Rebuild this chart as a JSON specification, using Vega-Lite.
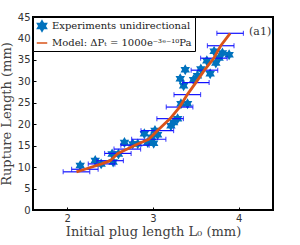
{
  "$schema": "https://vega.github.io/schema/vega-lite/v6.json",
  "width": 240,
  "height": 193,
  "autosize": {"type": "none"},
  "padding": {"left": 33, "top": 17, "right": 27, "bottom": 35},
  "background": "white",
  "datasets": {
    "exp": [
      {"L0": 2.151, "R": 10.36, "series": "Experiments unidirectional"},
      {"L0": 2.326, "R": 11.53, "series": "Experiments unidirectional"},
      {"L0": 2.395, "R": 10.75, "series": "Experiments unidirectional"},
      {"L0": 2.523, "R": 13.08, "series": "Experiments unidirectional"},
      {"L0": 2.535, "R": 11.21, "series": "Experiments unidirectional"},
      {"L0": 2.597, "R": 13.08, "series": "Experiments unidirectional"},
      {"L0": 2.667, "R": 15.73, "series": "Experiments unidirectional"},
      {"L0": 2.764, "R": 15.42, "series": "Experiments unidirectional"},
      {"L0": 2.822, "R": 15.42, "series": "Experiments unidirectional"},
      {"L0": 2.899, "R": 17.76, "series": "Experiments unidirectional"},
      {"L0": 2.938, "R": 15.73, "series": "Experiments unidirectional"},
      {"L0": 3.008, "R": 15.58, "series": "Experiments unidirectional"},
      {"L0": 3.023, "R": 18.54, "series": "Experiments unidirectional"},
      {"L0": 3.054, "R": 17.52, "series": "Experiments unidirectional"},
      {"L0": 2.984, "R": 16.98, "series": "Experiments unidirectional"},
      {"L0": 3.209, "R": 19.63, "series": "Experiments unidirectional"},
      {"L0": 3.240, "R": 20.40, "series": "Experiments unidirectional"},
      {"L0": 3.287, "R": 21.26, "series": "Experiments unidirectional"},
      {"L0": 3.318, "R": 30.61, "series": "Experiments unidirectional"},
      {"L0": 3.357, "R": 28.97, "series": "Experiments unidirectional"},
      {"L0": 3.376, "R": 32.71, "series": "Experiments unidirectional"},
      {"L0": 3.326, "R": 24.77, "series": "Experiments unidirectional"},
      {"L0": 3.403, "R": 24.77, "series": "Experiments unidirectional"},
      {"L0": 3.473, "R": 30.37, "series": "Experiments unidirectional"},
      {"L0": 3.519, "R": 31.31, "series": "Experiments unidirectional"},
      {"L0": 3.558, "R": 32.87, "series": "Experiments unidirectional"},
      {"L0": 3.628, "R": 34.81, "series": "Experiments unidirectional"},
      {"L0": 3.667, "R": 31.78, "series": "Experiments unidirectional"},
      {"L0": 3.713, "R": 36.99, "series": "Experiments unidirectional"},
      {"L0": 3.733, "R": 34.27, "series": "Experiments unidirectional"},
      {"L0": 3.771, "R": 35.44, "series": "Experiments unidirectional"},
      {"L0": 3.810, "R": 36.60, "series": "Experiments unidirectional"},
      {"L0": 3.888, "R": 36.21, "series": "Experiments unidirectional"}
    ],
    "model": [
      {"L0": 2.107, "R": 8.9, "err": 0.155, "series": "Model: ΔPₜ = 1000e⁻³ᵉ⁻¹⁰Pa"},
      {"L0": 2.205, "R": 9.5, "err": 0.155, "series": "Model: ΔPₜ = 1000e⁻³ᵉ⁻¹⁰Pa"},
      {"L0": 2.40, "R": 10.75, "err": 0.155, "series": "Model: ΔPₜ = 1000e⁻³ᵉ⁻¹⁰Pa"},
      {"L0": 2.50, "R": 11.5, "err": 0.155, "series": "Model: ΔPₜ = 1000e⁻³ᵉ⁻¹⁰Pa"},
      {"L0": 2.59, "R": 13.2, "err": 0.155, "series": "Model: ΔPₜ = 1000e⁻³ᵉ⁻¹⁰Pa"},
      {"L0": 2.70, "R": 14.2, "err": 0.155, "series": "Model: ΔPₜ = 1000e⁻³ᵉ⁻¹⁰Pa"},
      {"L0": 2.79, "R": 15.1, "err": 0.165, "series": "Model: ΔPₜ = 1000e⁻³ᵉ⁻¹⁰Pa"},
      {"L0": 2.95, "R": 16.5, "err": 0.2, "series": "Model: ΔPₜ = 1000e⁻³ᵉ⁻¹⁰Pa"},
      {"L0": 3.05, "R": 18.5, "err": 0.19, "series": "Model: ΔPₜ = 1000e⁻³ᵉ⁻¹⁰Pa"},
      {"L0": 3.20, "R": 21.3, "err": 0.155, "series": "Model: ΔPₜ = 1000e⁻³ᵉ⁻¹⁰Pa"},
      {"L0": 3.31, "R": 24.0, "err": 0.155, "series": "Model: ΔPₜ = 1000e⁻³ᵉ⁻¹⁰Pa"},
      {"L0": 3.40, "R": 26.9, "err": 0.155, "series": "Model: ΔPₜ = 1000e⁻³ᵉ⁻¹⁰Pa"},
      {"L0": 3.50, "R": 29.7, "err": 0.155, "series": "Model: ΔPₜ = 1000e⁻³ᵉ⁻¹⁰Pa"},
      {"L0": 3.60, "R": 32.6, "err": 0.155, "series": "Model: ΔPₜ = 1000e⁻³ᵉ⁻¹⁰Pa"},
      {"L0": 3.71, "R": 35.4, "err": 0.155, "series": "Model: ΔPₜ = 1000e⁻³ᵉ⁻¹⁰Pa"},
      {"L0": 3.79, "R": 38.3, "err": 0.155, "series": "Model: ΔPₜ = 1000e⁻³ᵉ⁻¹⁰Pa"},
      {"L0": 3.90, "R": 41.2, "err": 0.155, "series": "Model: ΔPₜ = 1000e⁻³ᵉ⁻¹⁰Pa"}
    ],
    "tag": [{"L0": 4.25, "R": 41.5, "label": "(a1)"}]
  },
  "encoding": {
    "x": {"field": "L0", "type": "quantitative", "scale": {"domain": [1.6, 4.4], "nice": false, "zero": false},
      "axis": {"values": [2, 3, 4], "title": "Initial plug length L₀ (mm)"}},
    "y": {"field": "R", "type": "quantitative", "scale": {"domain": [0, 45], "nice": false},
      "axis": {"values": [0, 5, 10, 15, 20, 25, 30, 35, 40, 45], "title": "Rupture Length (mm)"}}
  },
  "layer": [
    {
      "data": {"name": "exp"},
      "mark": {"type": "point", "filled": true, "opacity": 1, "size": 120},
      "encoding": {
        "color": {"field": "series", "type": "nominal",
          "scale": {"domain": ["Experiments unidirectional", "Model: ΔPₜ = 1000e⁻³ᵉ⁻¹⁰Pa"], "range": ["#0072BD", "#D95319"]},
          "legend": {"title": null, "orient": "top-left", "offset": 0,
            "encode": {
              "legend": {"update": {"strokeWidth": {"value": 2}}},
              "symbols": {"update": {"stroke": {"scale": "color", "field": "value"}, "strokeWidth": {"signal": "datum.value == 'Experiments unidirectional' ? 0 : 2.8"}}}}}},
        "shape": {"field": "series", "type": "nominal",
          "scale": {"domain": ["Experiments unidirectional", "Model: ΔPₜ = 1000e⁻³ᵉ⁻¹⁰Pa"], "range": ["M0,-1L0.289,-0.5L0.866,-0.5L0.577,0L0.866,0.5L0.289,0.5L0,1L-0.289,0.5L-0.866,0.5L-0.577,0L-0.866,-0.5L-0.289,-0.5Z", "stroke"]},
          "legend": {"title": null, "orient": "top-left", "offset": 0}}
      }
    },
    {
      "data": {"name": "model"},
      "mark": {"type": "errorbar", "ticks": true, "color": "#1010ff", "thickness": 1.2},
      "encoding": {
        "xError": {"field": "err"}
      }
    },
    {
      "data": {"name": "model"},
      "mark": {"type": "line", "strokeWidth": 2.8},
      "encoding": {
        "color": {"field": "series", "type": "nominal"}
      }
    },
    {
      "data": {"name": "tag"},
      "mark": {"type": "text", "font": "DejaVu Serif", "fontSize": 11, "color": "#333333", "align": "center", "baseline": "middle"},
      "encoding": {"text": {"field": "label"}}
    }
  ],
  "config": {
    "view": {"stroke": "black", "strokeWidth": 2},
    "axis": {
      "grid": false,
      "domain": false,
      "ticks": true,
      "tickColor": "black",
      "tickSize": -3,
      "labelPadding": 6,
      "labelFont": "DejaVu Sans",
      "labelFontSize": 10,
      "labelColor": "#333333",
      "titleFont": "DejaVu Serif",
      "titleFontSize": 13,
      "titleFontWeight": "normal",
      "titleColor": "#404040"
    },
    "axisX": {"titlePadding": 2},
    "axisY": {"titlePadding": 4},
    "legend": {
      "labelFont": "DejaVu Serif",
      "labelFontSize": 10,
      "labelColor": "#222222",
      "symbolSize": 110,
      "strokeColor": "black",
      "fillColor": "white",
      "padding": 3,
      "rowPadding": 2,
      "labelOffset": 4,
      "labelLimit": 300
    }
  }
}
